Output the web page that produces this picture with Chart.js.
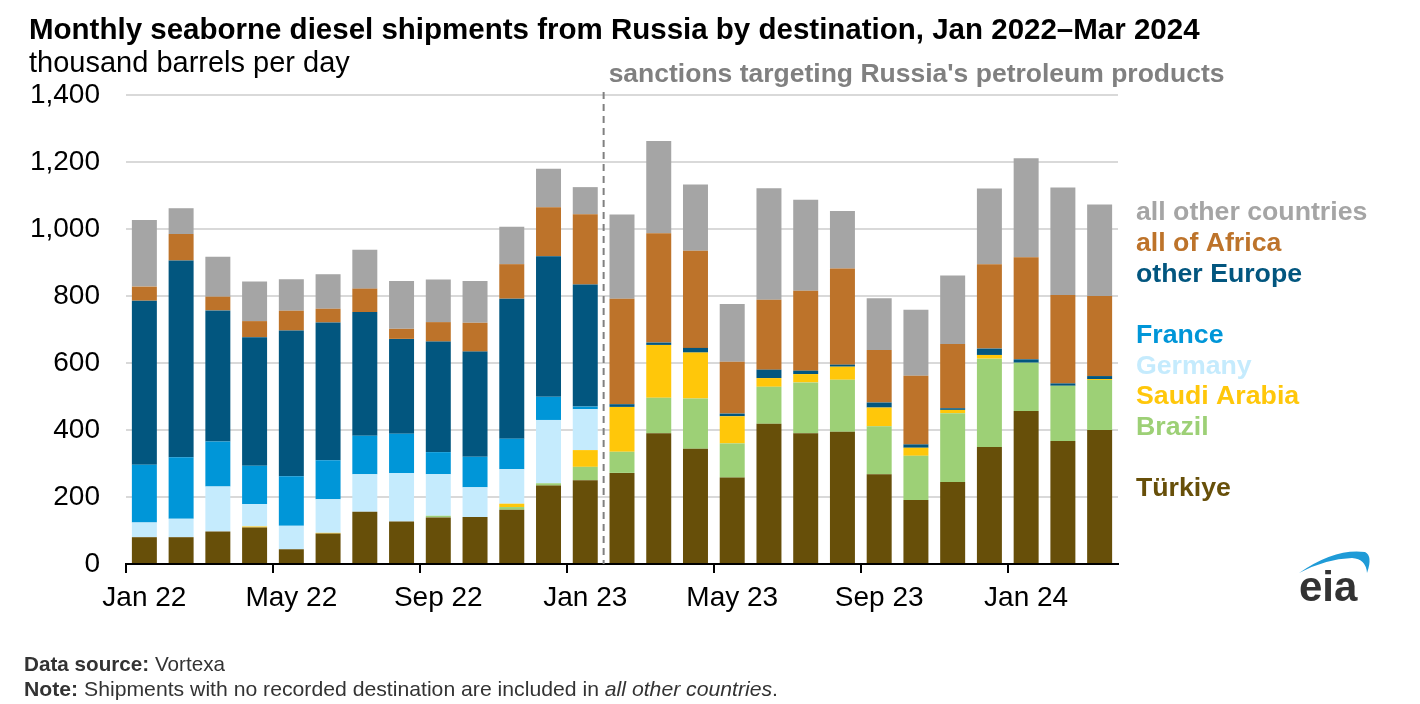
<!DOCTYPE html>
<html>
<head>
<meta charset="utf-8">
<script src="https://cdn.jsdelivr.net/npm/chart.js@4"></script>
<style>
  html, body { margin: 0; padding: 0; background: #fff; }
  #wrap { width: 1420px; height: 704px; position: relative; }
</style>
</head>
<body>
<div id="wrap"><canvas id="diesel"></canvas></div>
<script>
// data, thousand barrels per day
const months = ["Jan 22","Feb 22","Mar 22","Apr 22","May 22","Jun 22","Jul 22","Aug 22","Sep 22","Oct 22","Nov 22","Dec 22",
  "Jan 23","Feb 23","Mar 23","Apr 23","May 23","Jun 23","Jul 23","Aug 23","Sep 23","Oct 23","Nov 23","Dec 23",
  "Jan 24","Feb 24","Mar 24"];
const shownTicks = ["Jan 22","May 22","Sep 22","Jan 23","May 23","Sep 23","Jan 24"];

const turkiye = [80,80,97,109,44,91,156,127,139,140,162,234,250,272,390,344,258,419,390,395,268,191,245,349,457,367,400];
const brazil = [0,0,0,0,0,0,0,0,5,0,8,7,40,63,106,150,102,110,152,155,143,132,205,264,144,165,149];
const saudiArabia = [0,0,0,3,0,2,0,0,0,0,10,0,50,134,158,137,81,26,25,39,56,24,10,11,0,0,3];
const germany = [44,55,134,67,70,100,112,145,124,89,103,189,122,0,0,0,0,0,0,0,0,0,0,0,0,0,0];
const france = [172,184,135,114,148,117,115,117,66,91,91,69,8,0,0,0,0,0,0,0,0,0,0,0,0,0,0];
const otherEurope = [490,587,391,384,435,411,369,283,330,314,418,420,364,8,7,14,8,25,10,6,15,10,5,19,10,7,9];
const africa = [42,79,41,48,59,41,70,30,58,86,103,146,210,315,326,290,155,209,239,287,157,205,192,252,305,264,239];
const otherCountries = [199,77,119,118,94,103,116,143,127,125,112,115,81,251,276,198,172,333,271,172,154,197,204,226,295,321,273];

const yTicks = [0,200,400,600,800,1000,1200,1400];

const FONT = "'Liberation Sans', Arial, sans-serif";

// label positions on the right side (y centres)
const seriesLabels = [
  { text: "all other countries", color: "#a5a5a5", y: 213 },
  { text: "all of Africa", color: "#bd732a", y: 244 },
  { text: "other Europe", color: "#02567f", y: 275 },
  { text: "France", color: "#0096d8", y: 336 },
  { text: "Germany", color: "#c5ebfd", y: 367 },
  { text: "Saudi Arabia", color: "#ffc70a", y: 397 },
  { text: "Brazil", color: "#9dd076", y: 428 },
  { text: "Türkiye", color: "#674f09", y: 489 }
];

function ds(label, data, color) {
  return { label: label, data: data, backgroundColor: color, borderWidth: 0,
    barPercentage: 0.68, categoryPercentage: 1.0 };
}

// draws a line made of [text, font] parts, squeezed to a target width
function drawParts(ctx, parts, x, y, targetW) {
  let total = 0;
  parts.forEach(p => { ctx.font = p[1]; total += ctx.measureText(p[0]).width; });
  const sx = targetW ? targetW / total : 1;
  ctx.save();
  ctx.translate(x, y);
  ctx.scale(sx, 1);
  let cx = 0;
  parts.forEach(p => { ctx.font = p[1]; ctx.fillText(p[0], cx, 0); cx += ctx.measureText(p[0]).width; });
  ctx.restore();
}

const extras = {
  id: "extras",
  afterDraw(chart) {
    const { ctx, chartArea, scales } = chart;
    ctx.save();
    ctx.textBaseline = "middle";
    ctx.textAlign = "left";

    // x tick marks at the left edge of the labelled months
    const step = scales.x.getPixelForValue(1) - scales.x.getPixelForValue(0);
    ctx.strokeStyle = "#000";
    ctx.lineWidth = 2;
    months.forEach(function (m, i) {
      if (!shownTicks.includes(m)) return;
      const tx = Math.round(scales.x.getPixelForValue(i) - step / 2);
      ctx.beginPath();
      ctx.moveTo(tx, chartArea.bottom);
      ctx.lineTo(tx, chartArea.bottom + 9);
      ctx.stroke();
    });

    // title + units
    ctx.fillStyle = "#000";
    ctx.font = "bold 29.5px " + FONT;
    ctx.fillText("Monthly seaborne diesel shipments from Russia by destination, Jan 2022\u2013Mar 2024", 29, 31);
    ctx.font = "29px " + FONT;
    ctx.fillText("thousand barrels per day", 29, 64);

    // sanctions line
    const xs = (scales.x.getPixelForValue(12) + scales.x.getPixelForValue(13)) / 2;
    ctx.strokeStyle = "#808080";
    ctx.lineWidth = 2;
    ctx.setLineDash([7, 5]);
    ctx.beginPath();
    ctx.moveTo(xs, 92);
    ctx.lineTo(xs, chartArea.bottom);
    ctx.stroke();
    ctx.setLineDash([]);
    ctx.fillStyle = "#808080";
    ctx.font = "bold 26.5px " + FONT;
    ctx.fillText("sanctions targeting Russia's petroleum products", xs + 5, 75);

    // series labels
    ctx.font = "bold 26.7px " + FONT;
    seriesLabels.forEach(function (s) {
      ctx.fillStyle = s.color;
      ctx.fillText(s.text, 1136, s.y);
    });

    // footer
    ctx.fillStyle = "#333";
    drawParts(ctx, [["Data source: ", "bold 21px " + FONT], ["Vortexa", "21px " + FONT]], 24, 665, 201);
    drawParts(ctx, [["Note: ", "bold 21px " + FONT],
      ["Shipments with no recorded destination are included in ", "21px " + FONT],
      ["all other countries", "italic 21px " + FONT], [".", "21px " + FONT]], 24, 690, 754);

    // eia logo
    ctx.fillStyle = "#1f9bd7";
    ctx.beginPath();
    ctx.moveTo(1299, 573);
    ctx.quadraticCurveTo(1335, 548, 1365, 552);
    ctx.quadraticCurveTo(1373, 556, 1367, 573);
    ctx.quadraticCurveTo(1366, 559, 1352, 558);
    ctx.quadraticCurveTo(1325, 559, 1299, 573);
    ctx.fill();
    ctx.fillStyle = "#333";
    ctx.font = "bold 42px " + FONT;
    ctx.textBaseline = "alphabetic";
    ctx.fillText("eia", 1299, 601);
    ctx.restore();
  }
};

new Chart(document.getElementById("diesel"), {
  type: "bar",
  data: {
    labels: months,
    datasets: [
      ds("Türkiye", turkiye, "#674f09"),
      ds("Brazil", brazil, "#9dd076"),
      ds("Saudi Arabia", saudiArabia, "#ffc70a"),
      ds("Germany", germany, "#c5ebfd"),
      ds("France", france, "#0096d8"),
      ds("other Europe", otherEurope, "#02567f"),
      ds("all of Africa", africa, "#bd732a"),
      ds("all other countries", otherCountries, "#a5a5a5")
    ]
  },
  options: {
    responsive: true,
    maintainAspectRatio: false,
    animation: false,
    layout: { padding: { left: 20, right: 302, top: 95, bottom: 80 } },
    plugins: { legend: { display: false }, tooltip: { enabled: false } },
    scales: {
      x: {
        stacked: true,
        afterFit(scale) { scale.height = 60; },
        border: { display: true, color: "#000", width: 2 },
        grid: { display: false },
        ticks: {
          autoSkip: false, maxRotation: 0, padding: 9, color: "#000",
          font: { family: FONT, size: 28 },
          callback: function (v) {
            const l = this.getLabelForValue(v);
            return shownTicks.includes(l) ? l : "";
          }
        }
      },
      y: {
        stacked: true,
        min: 0, max: 1400,
        afterFit(scale) { scale.width = 106; },
        afterBuildTicks(scale) { scale.ticks = yTicks.map(v => ({ value: v })); },
        border: { display: false },
        grid: { color: "#d9d9d9", lineWidth: 2, drawTicks: false },
        ticks: {
          padding: 26, color: "#000",
          font: { family: FONT, size: 28 },
          callback: v => v.toLocaleString("en-US")
        }
      }
    }
  },
  plugins: [extras]
});
</script>
</body>
</html>
